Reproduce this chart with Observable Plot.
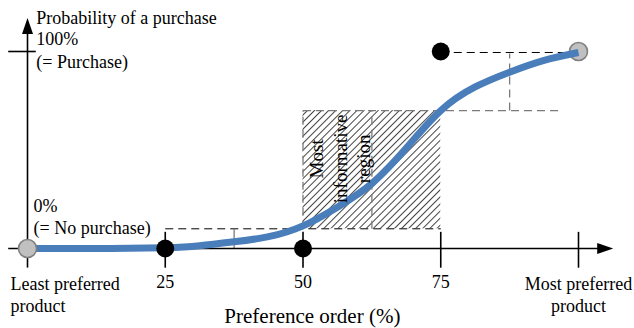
<!DOCTYPE html>
<html><head><meta charset="utf-8">
<script src="https://cdn.jsdelivr.net/npm/d3@7"></script>
<script src="https://cdn.jsdelivr.net/npm/@observablehq/plot@0.6"></script>
<style>body{margin:0;background:#fff}</style>
</head><body><div id="chart"></div>
<script>
// Purchase-probability curve (preference order %, probability %)
const curveX = [0, 12.5, 25, 31.25, 37.5, 43.75, 50, 56.25, 62.5, 68.75, 75, 81.25, 87.5, 93.75, 100];
const curveY = [0, 0, 0.4, 1.4, 3.4, 6, 11.5, 21, 33, 51, 70, 82, 89.5, 95.5, 99.5];

// Observed choices (black) and end anchors (grey)
const choiceX = [25, 50, 75];
const choiceY = [0, 0, 100];
const anchorX = [0, 100];
const anchorY = [0, 100];

// x ticks and labels
const tickValues = [25, 50, 75, 100];
const tickLabels = ["25", "50", "75"];
const tickLabelX = [25, 50, 75];

// most informative region (hatched)
const regionX = [50, 75];
const regionY = [10, 70];

// dashed guide lines
const blackGuideX1 = [25, 75];
const blackGuideX2 = [75, 100];
const blackGuideY = [10, 99.5];
const greyHGuideX1 = [50];
const greyHGuideX2 = [97];
const greyHGuideY = [70];
const greyVGuideX = [50, 62.5, 87.5];
const greyVGuideY1 = [10, 10, 70];
const greyVGuideY2 = [70, 70, 99];
const smallRuleX = [37.5];
const smallRuleY = [0, 10];

const curve = curveX.map((x, i) => ({x, y: curveY[i]}));
const choices = choiceX.map((x, i) => ({x, y: choiceY[i]}));
const anchors = anchorX.map((x, i) => ({x, y: anchorY[i]}));
const blackGuides = blackGuideX1.map((x1, i) => ({x1, x2: blackGuideX2[i], y: blackGuideY[i]}));
const greyH = greyHGuideX1.map((x1, i) => ({x1, x2: greyHGuideX2[i], y: greyHGuideY[i]}));
const greyV = greyVGuideX.map((x, i) => ({x, y1: greyVGuideY1[i], y2: greyVGuideY2[i]}));

// layout
const W = 634, H = 328, mL = 27, mR = 56, mT = 51, mB = 80;
const pxX = (W - mL - mR) / 100, pxY = (H - mT - mB) / 100;
// axis arrows: tip positions (data) and head size (px)
const xAxisEnd = 106.3, yAxisEnd = 117, headLen = 16, headHalf = 5.5;
const xHead = [{x: xAxisEnd - headLen / pxX, y: headHalf / pxY}, {x: xAxisEnd, y: 0}, {x: xAxisEnd - headLen / pxX, y: -headHalf / pxY}];
const yHead = [{x: -headHalf / pxX, y: yAxisEnd - headLen / pxY}, {x: 0, y: yAxisEnd}, {x: headHalf / pxX, y: yAxisEnd - headLen / pxY}];

const serif = "Liberation Serif";
const T = (data, o) => Plot.text(data, {text: d => d, fill: "black", fontFamily: serif, fontSize: 18, ...o});

const plot = Plot.plot({
  width: W, height: H,
  marginLeft: mL, marginRight: mR, marginTop: mT, marginBottom: mB,
  x: {domain: [0, 100], axis: null},
  y: {domain: [0, 100], axis: null},
  style: {fontFamily: serif, background: "white", color: "black"},
  marks: [
    Plot.rect([{x1: regionX[0], x2: regionX[1], y1: regionY[0], y2: regionY[1]}],
      {x1: "x1", x2: "x2", y1: "y1", y2: "y2", fill: "url(#hatch)"}),
    Plot.link(greyH, {x1: "x1", x2: "x2", y1: "y", y2: "y", stroke: "#7a7a7a", strokeWidth: 1.3, strokeDasharray: "8,5"}),
    Plot.link(greyV, {x1: "x", x2: "x", y1: "y1", y2: "y2", stroke: "#7a7a7a", strokeWidth: 1.3, strokeDasharray: "8,5"}),
    Plot.link(blackGuides, {x1: "x1", x2: "x2", y1: "y", y2: "y", stroke: "black", strokeWidth: 1, strokeDasharray: "8,5"}),
    Plot.link(smallRuleX, {x1: d => d, x2: d => d, y1: smallRuleY[0], y2: smallRuleY[1], stroke: "#7a7a7a", strokeWidth: 1.3}),
    // axes with arrowheads
    Plot.link([{x1: -3.5, x2: xAxisEnd - 2, y1: 0, y2: 0}, {x1: 0, x2: 0, y1: -9.7, y2: yAxisEnd - 4}],
      {x1: "x1", x2: "x2", y1: "y1", y2: "y2", stroke: "black", strokeWidth: 1.6}),
    Plot.line(xHead, {x: "x", y: "y", fill: "black", stroke: "none"}),
    Plot.line(yHead, {x: "x", y: "y", fill: "black", stroke: "none"}),
    Plot.ruleX(tickValues, {y1: -10, y2: 8.2, stroke: "black", strokeWidth: 1.6}),
    Plot.link([{x1: -3.5, x2: 1.5, y: 100}], {x1: "x1", x2: "x2", y1: "y", y2: "y", stroke: "black", strokeWidth: 1.6}),
    // right grey anchor under the curve
    Plot.dot(anchors.slice(1), {x: "x", y: "y", r: 9, fill: "#c0c0c0", stroke: "#808080", strokeWidth: 1.6}),
    Plot.line(curve, {x: "x", y: "y", stroke: "#4a7ebb", strokeWidth: 7, curve: "natural", strokeLinecap: "butt"}),
    Plot.dot(anchors.slice(0, 1), {x: "x", y: "y", r: 9, fill: "#c0c0c0", stroke: "#808080", strokeWidth: 1.6}),
    Plot.dot(choices, {x: "x", y: "y", r: 9, fill: "black"}),
    // texts
    T(tickLabels, {x: (d, i) => tickLabelX[i], y: -17.3}),
    T(["Least preferred\nproduct"], {x: -3.1, y: -23.2, textAnchor: "start", lineHeight: 1.22}),
    T(["Most preferred\nproduct"], {x: 100, y: -23.2, lineHeight: 1.22}),
    T(["Preference order (%)"], {x: 51.7, y: -34.5, fontSize: 21}),
    T(["Probability of a purchase"], {x: 1.6, y: 116.8, textAnchor: "start"}),
    T(["100%"], {x: 1.6, y: 106.3, textAnchor: "start"}),
    T(["(= Purchase)"], {x: 1.6, y: 94.6, textAnchor: "start"}),
    T(["0%"], {x: 1.1, y: 21.3, textAnchor: "start"}),
    T(["(= No purchase)"], {x: 1.1, y: 10.2, textAnchor: "start"}),
    T(["Most\ninformative\nregion"], {x: 56.6, y: 45.5, rotate: -90, fontSize: 19, lineHeight: 1.24})
  ]
});

const svg = d3.select(plot);
const defs = svg.insert("defs", ":first-child");
defs.append("pattern")
  .attr("id", "hatch").attr("patternUnits", "userSpaceOnUse")
  .attr("width", 5).attr("height", 5)
  .attr("patternTransform", "rotate(45)")
  .append("line").attr("x1", 0.5).attr("y1", 0).attr("x2", 0.5).attr("y2", 5)
  .attr("stroke", "#444").attr("stroke-width", 1);

document.getElementById("chart").append(plot);
</script>
</body></html>
